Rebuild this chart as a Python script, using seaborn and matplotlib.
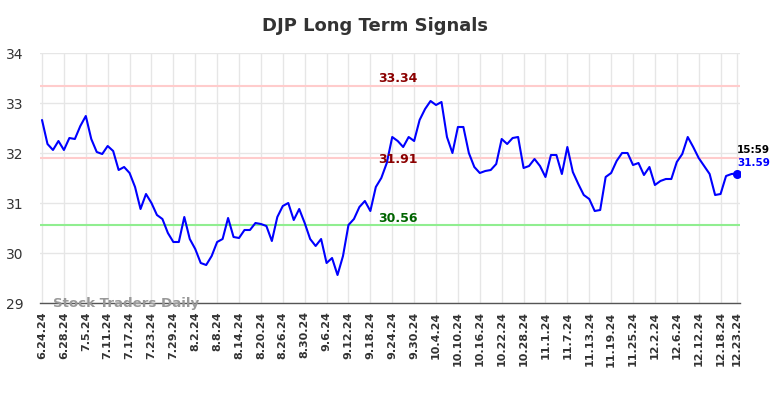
import numpy as np
import pandas as pd
import matplotlib
matplotlib.use("Agg")
import matplotlib.pyplot as plt
import seaborn as sns

# closing prices, one per trading day 6/24/24 .. 12/23/24
prices = [
    32.66, 32.18, 32.06, 32.24, 32.06, 32.30, 32.28, 32.54, 32.74, 32.28,
    32.02, 31.98, 32.14, 32.04, 31.66, 31.72, 31.60, 31.32, 30.88, 31.18,
    31.00, 30.76, 30.68, 30.40, 30.22, 30.22, 30.72, 30.28, 30.08, 29.80,
    29.76, 29.94, 30.22, 30.28, 30.70, 30.32, 30.30, 30.46, 30.46, 30.60,
    30.58, 30.54, 30.24, 30.72, 30.94, 31.00, 30.66, 30.88, 30.60, 30.28,
    30.14, 30.28, 29.80, 29.90, 29.56, 29.94, 30.56, 30.68, 30.92, 31.04,
    30.84, 31.32, 31.50, 31.80, 32.32, 32.24, 32.12, 32.32, 32.24, 32.66,
    32.88, 33.04, 32.96, 33.02, 32.32, 32.00, 32.52, 32.52, 32.00, 31.72,
    31.60, 31.64, 31.66, 31.78, 32.28, 32.18, 32.30, 32.32, 31.70, 31.74,
    31.88, 31.74, 31.52, 31.96, 31.96, 31.58, 32.12, 31.62, 31.38, 31.16,
    31.08, 30.84, 30.86, 31.52, 31.60, 31.84, 32.00, 32.00, 31.76, 31.80,
    31.56, 31.72, 31.36, 31.44, 31.48, 31.48, 31.82, 31.98, 32.32, 32.12,
    31.90, 31.74, 31.58, 31.16, 31.18, 31.54, 31.58, 31.59,
]

tick_labels = [
    "6.24.24", "6.28.24", "7.5.24", "7.11.24", "7.17.24", "7.23.24", "7.29.24",
    "8.2.24", "8.8.24", "8.14.24", "8.20.24", "8.26.24", "8.30.24", "9.6.24",
    "9.12.24", "9.18.24", "9.24.24", "9.30.24", "10.4.24", "10.10.24",
    "10.16.24", "10.22.24", "10.28.24", "11.1.24", "11.7.24", "11.13.24",
    "11.19.24", "11.25.24", "12.2.24", "12.6.24", "12.12.24", "12.18.24",
    "12.23.24",
]

upper_level = 33.34
mid_level = 31.91
lower_level = 30.56
last_time = "15:59"

df = pd.DataFrame({"day": np.arange(len(prices)), "price": prices})
tick_pos = list(range(0, len(prices) - 1, 4)) + [len(prices) - 1]

sns.set_style("white")
plt.rcParams["font.family"] = ["DejaVu Sans"]

fig = plt.figure(figsize=(7.84, 3.98), dpi=100)
ax = fig.add_axes([40 / 784, 95 / 398, 700 / 784, 250 / 398])

ax.grid(True, color="#e6e6e6", linewidth=1)
ax.set_axisbelow(True)

ax.axhline(upper_level, color="#ffcccc", linewidth=1.5, zorder=1)
ax.axhline(mid_level, color="#ffcccc", linewidth=1.5, zorder=1)
ax.axhline(lower_level, color="#90ee90", linewidth=1.5, zorder=1)

sns.lineplot(data=df, x="day", y="price", ax=ax, color="blue", linewidth=1.5, zorder=3)

# last close marker + labels
last_x = df["day"].iloc[-1]
last_y = df["price"].iloc[-1]
ax.scatter([last_x], [last_y], color="blue", s=30, zorder=4)
ax.text(last_x, last_y + 0.47, last_time, fontsize=7.5, fontweight="bold",
        color="black", va="center", ha="left")
ax.text(last_x, last_y + 0.22, f"{last_y:.2f}", fontsize=7.5, fontweight="bold",
        color="blue", va="center", ha="left")

mid_x = 65
ax.text(mid_x, upper_level + 0.16, f"{upper_level:.2f}", color="#8b0000",
        fontsize=9, fontweight="bold", ha="center", va="center")
ax.text(mid_x, mid_level - 0.03, f"{mid_level:.2f}", color="#8b0000",
        fontsize=9, fontweight="bold", ha="center", va="center")
ax.text(mid_x, lower_level + 0.14, f"{lower_level:.2f}", color="#006400",
        fontsize=9, fontweight="bold", ha="center", va="center")

ax.text(2, 29.0, "Stock Traders Daily", color="#999999", fontsize=9.6,
        fontweight="bold", ha="left", va="center", zorder=5)

ax.set_xlim(-0.37, len(prices) - 1 + 0.55)
ax.set_ylim(29, 34)
ax.set_yticks([29, 30, 31, 32, 33, 34])
ax.set_xticks(tick_pos)
ax.set_xticklabels(tick_labels, rotation=90, fontsize=8, fontweight="bold", color="#333333")
ax.tick_params(axis="y", labelsize=10, colors="#333333", length=0, pad=12)
ax.tick_params(axis="x", length=0, pad=6)
ax.set_xlabel("")
ax.set_ylabel("")

for s in ["top", "right", "left"]:
    ax.spines[s].set_visible(False)
ax.spines["bottom"].set_color("#555555")
ax.spines["bottom"].set_linewidth(1)

fig.suptitle("DJP Long Term Signals", x=375 / 784, y=1 - 26 / 398, va="center",
             fontsize=13, fontweight="bold", color="#333333")

fig.savefig("out.png", dpi=100)
